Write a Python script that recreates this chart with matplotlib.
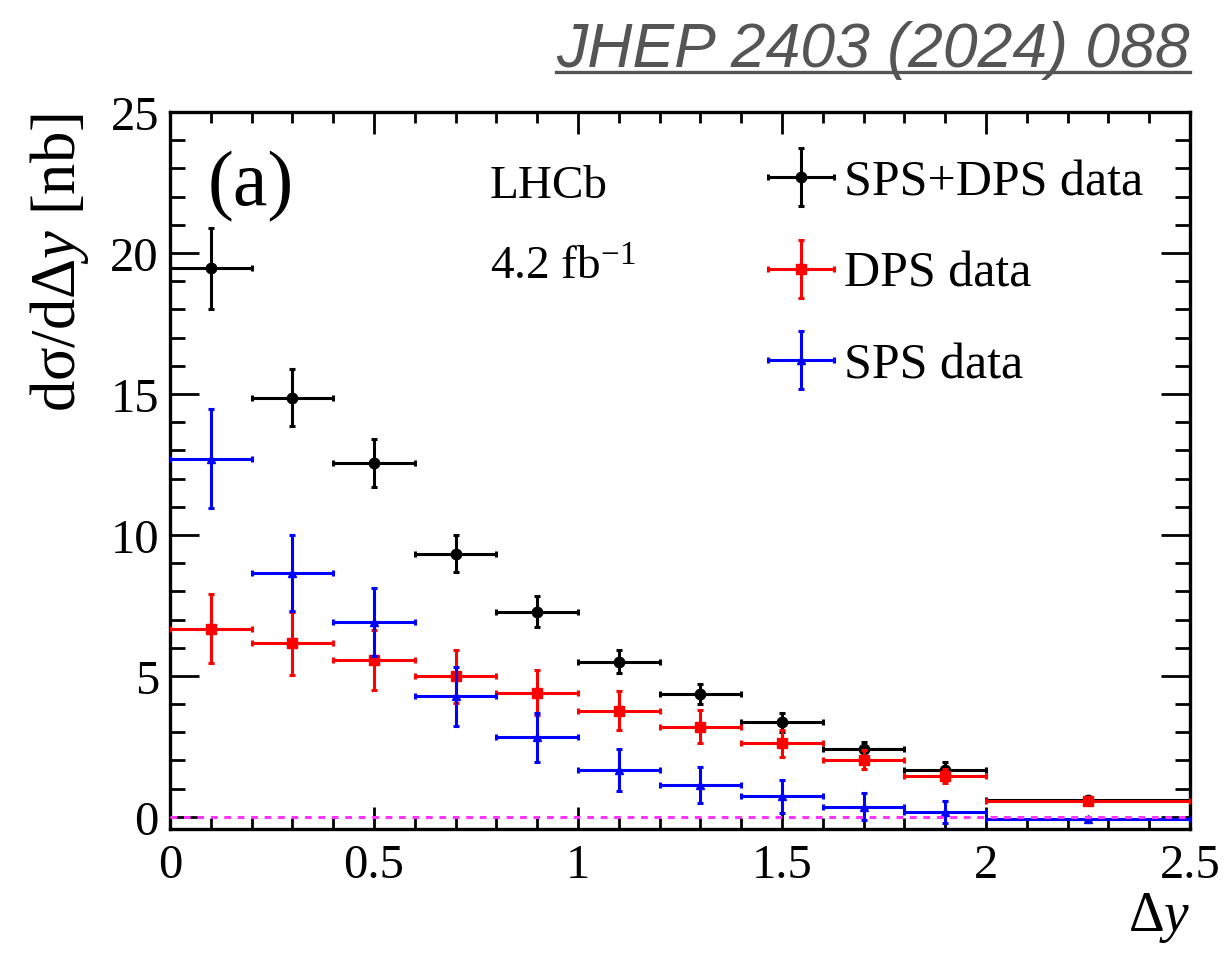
import matplotlib
matplotlib.use("Agg")
import matplotlib.pyplot as plt
from matplotlib.ticker import MultipleLocator
from matplotlib.lines import Line2D
from matplotlib.container import ErrorbarContainer
from matplotlib.legend_handler import HandlerErrorbar

# ---- data ----
x_centers = [0.1, 0.3, 0.5, 0.7, 0.9, 1.1, 1.3, 1.5, 1.7, 1.9, 2.25]
x_halfwidth = [0.1, 0.1, 0.1, 0.1, 0.1, 0.1, 0.1, 0.1, 0.1, 0.1, 0.25]

sps_dps = [19.45, 14.87, 12.55, 9.33, 7.28, 5.51, 4.36, 3.35, 2.41, 1.67, 0.60]
sps_dps_err = [1.45, 1.0, 0.85, 0.65, 0.55, 0.42, 0.37, 0.33, 0.25, 0.28, 0.10]

dps = [6.68, 6.15, 5.57, 4.98, 4.41, 3.77, 3.20, 2.61, 2.03, 1.44, 0.56]
dps_err = [1.24, 1.12, 1.06, 0.93, 0.80, 0.70, 0.58, 0.48, 0.33, 0.25, 0.10]

sps = [12.7, 8.65, 6.92, 4.27, 2.82, 1.67, 1.13, 0.73, 0.36, 0.18, -0.07]
sps_err = [1.75, 1.35, 1.20, 1.03, 0.88, 0.75, 0.65, 0.58, 0.47, 0.40, 0.08]

labels = ["SPS+DPS data", "DPS data", "SPS data"]
xticks = [0, 0.5, 1, 1.5, 2, 2.5]
xticklabels = ["0", "0.5", "1", "1.5", "2", "2.5"]
yticks = [0, 5, 10, 15, 20, 25]

# ---- style ----
SERIF = "Liberation Serif"
plt.rcParams["font.family"] = SERIF
plt.rcParams["mathtext.fontset"] = "custom"
plt.rcParams["mathtext.rm"] = SERIF
plt.rcParams["mathtext.it"] = SERIF + ":italic"
plt.rcParams["mathtext.bf"] = SERIF + ":bold"

W, H = 1226, 954
fig = plt.figure(figsize=(W / 100, H / 100), dpi=100)
ax = fig.add_axes([170 / W, 1 - 830 / H, (1190 - 170) / W, (830 - 113) / H])

lw = 2.2
common = dict(linestyle="none", elinewidth=lw, capsize=2.5, capthick=lw)
h1 = ax.errorbar(x_centers, sps_dps, yerr=sps_dps_err, xerr=x_halfwidth,
                 fmt="o", color="black", markersize=7.5, zorder=3, **common)
h2 = ax.errorbar(x_centers, dps, yerr=dps_err, xerr=x_halfwidth,
                 fmt="s", color="#ff0000", markersize=7.5, zorder=4, **common)
h3 = ax.errorbar(x_centers, sps, yerr=sps_err, xerr=x_halfwidth,
                 fmt="^", color="#0000ff", markersize=5.5, zorder=5, **common)

ax.axhline(0, color="#ff33ff", lw=2.2, linestyle=(0, (2.2, 2.2)), zorder=6)

ax.set_xlim(0, 2.5)
ax.set_ylim(-0.43, 25)
ax.set_xticks(xticks)
ax.set_xticklabels(xticklabels)
ax.set_yticks(yticks)
ax.xaxis.set_minor_locator(MultipleLocator(0.1))
ax.yaxis.set_minor_locator(MultipleLocator(1))
ax.tick_params(axis="both", which="both", direction="in", top=True, right=True,
               width=2.0, labelsize=35, colors="black")
ax.tick_params(axis="x", which="major", length=16, pad=10)
ax.tick_params(axis="x", which="minor", length=8)
ax.tick_params(axis="y", which="major", length=21, pad=8)
ax.tick_params(axis="y", which="minor", length=11)
for s in ax.spines.values():
    s.set_linewidth(2.4)

# axis labels (ROOT style: aligned to the end of the axis)
ax.set_xlabel("Δ$y$", fontsize=40, loc="right", labelpad=2)
ax.set_ylabel("dσ/dΔ$y$ [nb]", fontsize=45, loc="top", labelpad=14)

# text annotations
ax.text((208 - 170) / 1020, (830 - 205) / 717, "(a)", transform=ax.transAxes,
        fontsize=56, ha="left", va="baseline")
ax.text((490 - 170) / 1020, (830 - 198) / 717, "LHCb", transform=ax.transAxes,
        fontsize=34, ha="left", va="baseline")
ax.text((490 - 170) / 1020, (830 - 280) / 717, r"4.2 fb$^{-1}$", transform=ax.transAxes,
        fontsize=34, ha="left", va="baseline")

leg = ax.legend([h1, h2, h3], labels, loc="upper left",
                bbox_to_anchor=((767 - 170) / 1020, (830 - 160) / 717),
                frameon=False, fontsize=36, handlelength=1.35, handletextpad=0.2,
                labelspacing=0.9, borderpad=0.0, borderaxespad=0.0,
                handler_map={ErrorbarContainer: HandlerErrorbar(xerr_size=0.66,
                                                                yerr_size=0.58)})

# citation
t = fig.text(1190 / W, 1 - 67 / H, "JHEP 2403 (2024) 088", fontsize=45,
             family="Liberation Sans", style="italic", color="#555555",
             ha="right", va="baseline")
fig.canvas.draw()
bb = t.get_window_extent(fig.canvas.get_renderer())
fig.add_artist(Line2D([bb.x0 / W, bb.x1 / W], [1 - 73 / H, 1 - 73 / H],
                      transform=fig.transFigure, color="#555555", lw=2.4))

fig.savefig("out.png", dpi=100)
